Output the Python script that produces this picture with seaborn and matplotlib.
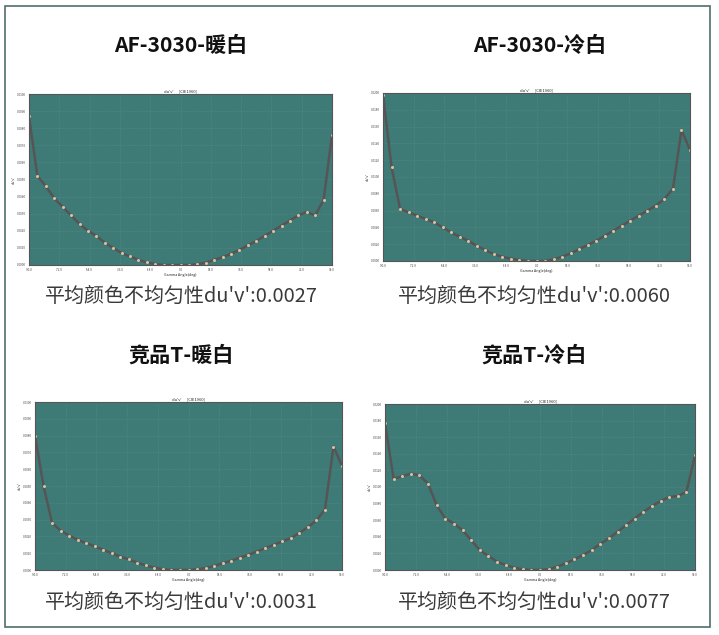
import numpy as np
import pandas as pd
import matplotlib
matplotlib.use("Agg")
import matplotlib.pyplot as plt
import seaborn as sns
from matplotlib.patches import Rectangle

# Gamma angle (deg) and du'v' curves
angles = list(range(-90, 91, 5))

af_warm = [0.87, 0.52, 0.46, 0.39, 0.34, 0.29, 0.24, 0.20, 0.17, 0.13, 0.10, 0.07,
           0.05, 0.03, 0.015, 0.006, 0.0, 0.0, 0.0, 0.0, 0.004, 0.014, 0.03, 0.045,
           0.065, 0.088, 0.115, 0.14, 0.17, 0.20, 0.23, 0.26, 0.29, 0.31, 0.29, 0.38, 0.76]
af_cool = [0.99, 0.56, 0.31, 0.29, 0.27, 0.25, 0.23, 0.20, 0.17, 0.145, 0.12, 0.09,
           0.065, 0.04, 0.025, 0.014, 0.006, 0.0, 0.0, 0.0, 0.01, 0.026, 0.045, 0.07,
           0.095, 0.12, 0.15, 0.18, 0.21, 0.24, 0.27, 0.30, 0.33, 0.37, 0.43, 0.78, 0.66]
t_warm = [0.80, 0.50, 0.28, 0.235, 0.205, 0.18, 0.16, 0.14, 0.12, 0.10, 0.08, 0.063,
          0.043, 0.027, 0.014, 0.004, 0.0, 0.0, 0.0, 0.004, 0.012, 0.024, 0.04, 0.055,
          0.073, 0.09, 0.11, 0.13, 0.15, 0.17, 0.19, 0.22, 0.255, 0.295, 0.36, 0.735, 0.62]
t_cool = [0.885, 0.55, 0.565, 0.58, 0.57, 0.52, 0.39, 0.31, 0.28, 0.24, 0.18, 0.12,
          0.085, 0.05, 0.03, 0.014, 0.004, 0.0, 0.0, 0.004, 0.02, 0.04, 0.064, 0.09,
          0.12, 0.157, 0.19, 0.23, 0.27, 0.31, 0.35, 0.385, 0.415, 0.44, 0.445, 0.47, 0.69]

y_max = [0.0100, 0.0200, 0.0100, 0.0200]
titles = ["AF-3030-暖白", "AF-3030-冷白", "竞品T-暖白", "竞品T-冷白"]
captions = ["平均颜色不均匀性du'v':0.0027", "平均颜色不均匀性du'v':0.0060",
            "平均颜色不均匀性du'v':0.0031", "平均颜色不均匀性du'v':0.0077"]
curves = [af_warm, af_cool, t_warm, t_cool]

W, H = 719, 635
# axes boxes in pixels: left, right, top, bottom
boxes = [(29, 332, 94, 265), (383, 690, 93, 261), (35, 342, 402, 570), (385, 695, 404, 570)]
title_pos = [(181, 45), (540, 45), (181, 355), (534, 355)]
caption_pos = [(181, 296), (534, 296), (181, 602), (534, 602)]

sns.set_style("white")
plt.rcParams['font.family'] = ['Noto Sans CJK SC', 'DejaVu Sans']

fig = plt.figure(figsize=(W / 100, H / 100), dpi=100)
fig.patch.set_facecolor("white")

# outer frame
fig.patches.append(Rectangle((5 / W, 1 - 627 / H), 705 / W, 621 / H, transform=fig.transFigure,
                             fill=False, edgecolor="#4f6d6d", linewidth=1.2))

for i in range(4):
    l, r, t, b = boxes[i]
    ax = fig.add_axes([l / W, 1 - b / H, (r - l) / W, (b - t) / H])
    ax.set_facecolor("#3e7b77")
    df = pd.DataFrame({"angle": angles, "duv": np.array(curves[i]) * y_max[i]})
    sns.lineplot(data=df, x="angle", y="duv", ax=ax, color="#555555", linewidth=1.8,
                 marker="o", markersize=1.4, markerfacecolor="#d8c2a0", markeredgecolor="#d8c2a0")
    ax.set_xlim(-90, 90)
    ax.set_ylim(0, y_max[i])
    ax.set_xticks(np.linspace(-90, 90, 11))
    ax.set_yticks(np.linspace(0, y_max[i], 11))
    ax.set_xticklabels([f"{v:.1f}" for v in np.linspace(-90, 90, 11)])
    ax.set_yticklabels([f"{v:.4f}" for v in np.linspace(0, y_max[i], 11)])
    ax.tick_params(labelsize=2.2, length=1, pad=1, colors="#444444")
    ax.grid(True, color="#5f908c", linewidth=0.4, linestyle=":")
    ax.set_title("du'v'      [CIE1960]", fontsize=3, pad=1.5, color="#222222")
    ax.set_xlabel("Gamma Angle(deg)", fontsize=2.6, labelpad=1, color="#222222")
    ax.set_ylabel("du'v'", fontsize=2.6, labelpad=1, color="#222222")
    for s in ax.spines.values():
        s.set_color("#555555")
        s.set_linewidth(0.8)

    tx, ty = title_pos[i]
    fig.text(tx / W, 1 - ty / H, titles[i], ha="center", va="center", fontsize=15.2,
             fontweight="bold", color="#111111")
    cx, cy = caption_pos[i]
    fig.text(cx / W, 1 - cy / H, captions[i], ha="center", va="center", fontsize=14.4,
             fontweight="light", color="#3a3a3a")

fig.savefig("out.png", dpi=100, facecolor="white")
